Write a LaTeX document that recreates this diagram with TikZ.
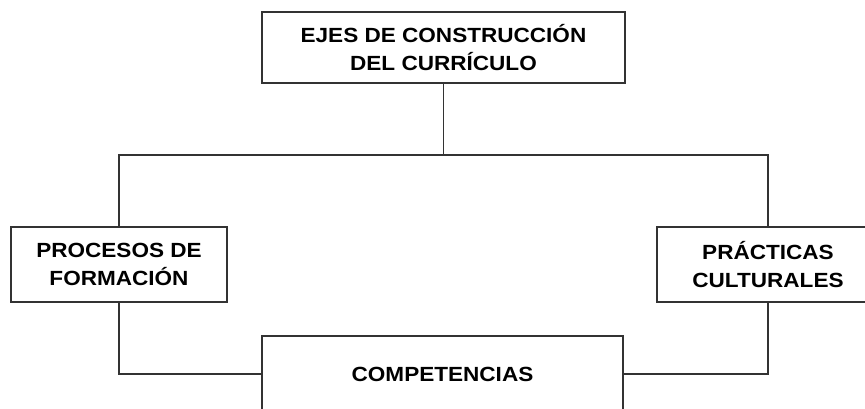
\documentclass[tikz,border=0pt]{standalone}
\usepackage{fontspec}
\setmainfont{Liberation Sans}[FakeStretch=1.1]
\begin{document}
\begin{tikzpicture}[x=1pt,y=-1pt,
  box/.style={draw=linec, line width=1.8pt, fill=white, align=center, inner sep=0pt,
    font=\bfseries\fontsize{20.5}{28}\selectfont, text=black},
  conn/.style={draw=linec, line width=1.8pt}]
\definecolor{linec}{HTML}{333333}
\clip (0,0) rectangle (865,409);
\fill[white] (0,0) rectangle (865,409);
\node[box, minimum width=363pt, minimum height=71pt] (top) at (443.5,47.5) {EJES DE CONSTRUCCIÓN\\DEL CURRÍCULO};
\node[box, minimum width=216pt, minimum height=75pt] (left) at (119,264.5) {PROCESOS DE\\FORMACIÓN};
\node[box, minimum width=222pt, minimum height=75pt] (right) at (768,264.5) {PRÁCTICAS\\CULTURALES};
\node[box, minimum width=361pt, minimum height=76pt, text depth=0pt] (comp) at (442.5,374) {COMPETENCIAS};
\coordinate (j) at (443.5,155);
\draw[conn] (top.south) -- (j);
\draw[conn] (left.north) -- (left.north |- j) -- (right.north |- j) -- (right.north);
\draw[conn] (left.south) |- (comp.west);
\draw[conn] (right.south) |- (comp.east);
\end{tikzpicture}
\end{document}
